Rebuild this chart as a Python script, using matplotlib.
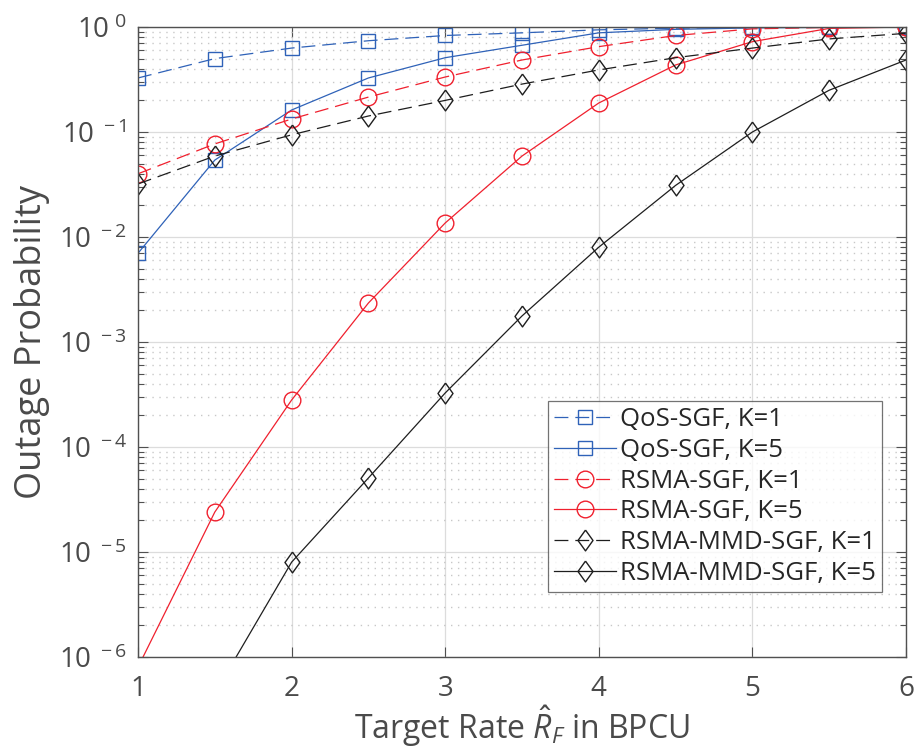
import numpy as np
import matplotlib
matplotlib.use('Agg')
import matplotlib.pyplot as plt
from matplotlib.ticker import LogLocator, NullFormatter, FixedLocator

# Data
rate = [1, 1.5, 2, 2.5, 3, 3.5, 4, 4.5, 5, 5.5, 6]

qos_k1 = [0.327, 0.50, 0.63, 0.74, 0.83, 0.88, 0.94, 0.975, 0.99, 0.997, 1.0]
qos_k5 = [0.0070, 0.054, 0.162, 0.327, 0.51, 0.67, 0.88, 0.95, 0.98, 0.993, 1.0]
rsma_k1 = [0.040, 0.077, 0.133, 0.215, 0.334, 0.485, 0.65, 0.83, 0.96, 0.99, 1.0]
rsma_k5 = [8e-7, 2.4e-5, 2.8e-4, 2.35e-3, 0.0136, 0.059, 0.189, 0.435, 0.725, 0.97, 1.0]
mmd_k1 = [0.032, 0.059, 0.094, 0.142, 0.20, 0.286, 0.39, 0.51, 0.63, 0.77, 0.87]
mmd_k5 = [1e-8, 4.5e-7, 8.0e-6, 5.07e-5, 3.27e-4, 1.77e-3, 8.0e-3, 0.031, 0.10, 0.25, 0.485]

labels = ['QoS-SGF, K=1', 'QoS-SGF, K=5', 'RSMA-SGF, K=1', 'RSMA-SGF, K=5',
          'RSMA-MMD-SGF, K=1', 'RSMA-MMD-SGF, K=5']

blue = '#2f62b8'
red = '#f0202e'
black = '#1e1e1e'
text_col = '#4a4a4a'

plt.rcParams['font.family'] = ['Open Sans', 'DejaVu Sans']
plt.rcParams['lines.scale_dashes'] = False
plt.rcParams['mathtext.fontset'] = 'custom'
plt.rcParams['mathtext.rm'] = 'Open Sans'
plt.rcParams['mathtext.it'] = 'Open Sans:italic'

diamond = [(0, 1), (0.72, 0), (0, -1), (-0.72, 0), (0, 1)]

fig = plt.figure(figsize=(9.16, 7.49), dpi=100)
ax = fig.add_axes([138/916, 1-657/749, (906-138)/916, (657-27)/749])

dash = (10, 5)
lw = 0.9
ax.plot(rate, qos_k1, color=blue, lw=lw, dashes=dash, marker='s', ms=9.5,
        mfc='none', mec=blue, mew=1.0, label=labels[0])
ax.plot(rate, qos_k5, color=blue, lw=lw, marker='s', ms=9.5,
        mfc='none', mec=blue, mew=1.0, label=labels[1])
ax.plot(rate, rsma_k1, color=red, lw=lw, dashes=dash, marker='o', ms=12,
        mfc='none', mec=red, mew=1.0, label=labels[2])
ax.plot(rate, rsma_k5, color=red, lw=lw, marker='o', ms=12,
        mfc='none', mec=red, mew=1.0, label=labels[3])
ax.plot(rate, mmd_k1, color=black, lw=lw, dashes=dash, marker=diamond, ms=15,
        mfc='none', mec=black, mew=1.0, label=labels[4])
ax.plot(rate, mmd_k5, color=black, lw=lw, marker=diamond, ms=15,
        mfc='none', mec=black, mew=1.0, label=labels[5])

ax.set_yscale('log')
ax.set_xlim(1, 6)
ax.set_ylim(1e-6, 1)

ax.set_xticks([1, 2, 3, 4, 5, 6])
ax.set_xticklabels(['1', '2', '3', '4', '5', '6'])
yt = [10.0**k for k in range(-6, 1)]
ax.yaxis.set_major_locator(FixedLocator(yt))
ax.set_yticklabels([r'$\mathregular{10^{\ %d}}$' % k for k in range(-6, 1)])
ax.yaxis.set_minor_locator(LogLocator(base=10, subs=np.arange(2, 10), numticks=20))
ax.yaxis.set_minor_formatter(NullFormatter())

ax.grid(True, which='major', color='#dcdcdc', lw=0.9, ls='-')
ax.grid(True, which='minor', axis='y', color='#c8c8c8', lw=1.0, ls=(0, (1, 4)))
ax.set_axisbelow(True)

ax.tick_params(which='both', direction='in', top=True, right=True,
               colors='#505050', labelcolor=text_col, labelsize=20)
ax.tick_params(which='major', length=7, width=0.8)
ax.tick_params(which='minor', length=4, width=0.8)
ax.tick_params(axis='x', pad=13)
ax.tick_params(axis='y', pad=8)
for s in ax.spines.values():
    s.set_color('#505050')
    s.set_linewidth(1.0)

ax.set_xlabel(r'Target Rate $\hat{R}_F$ in BPCU', fontsize=23, color=text_col, labelpad=0)
ax.set_ylabel('Outage Probability', fontsize=26, color=text_col, labelpad=6)

leg = ax.legend(loc='lower right', bbox_to_anchor=(0.969, 0.103), fontsize=18.5,
                frameon=True, fancybox=False, edgecolor='#505050',
                handlelength=2.4, handletextpad=0.15, borderpad=0.25,
                labelspacing=0.22, borderaxespad=0)
leg.get_frame().set_linewidth(0.9)
for t in leg.get_texts():
    t.set_color('#262626')

fig.savefig('out.png', dpi=100)
